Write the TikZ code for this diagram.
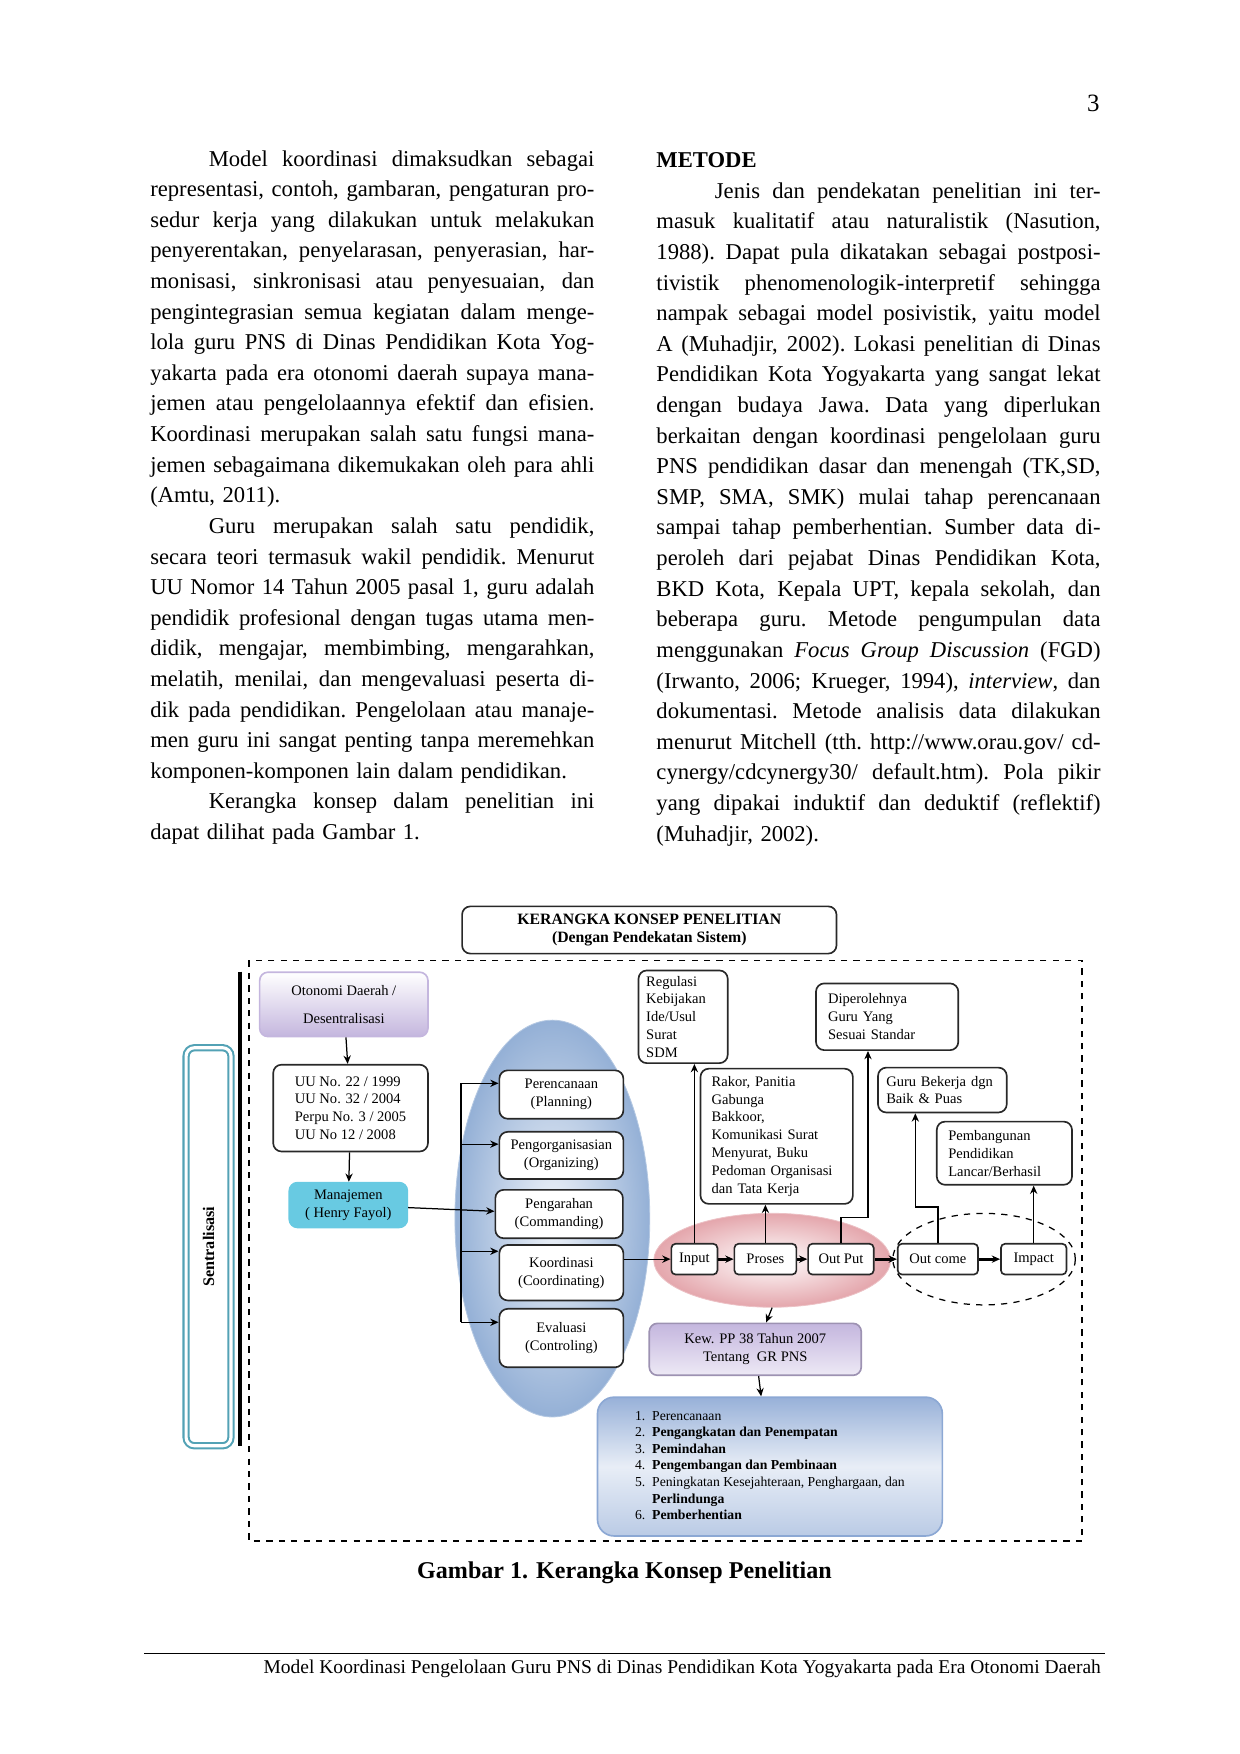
\documentclass[tikz,border=0pt]{standalone}
\usepackage{fontspec}
\setmainfont{Liberation Serif}
\usetikzlibrary{shapes.geometric,arrows.meta,positioning}
\definecolor{lavender}{RGB}{196,182,222}
\definecolor{skycyan}{RGB}{104,202,226}
\definecolor{ovalblue}{RGB}{148,176,214}
\definecolor{ovalpink}{RGB}{228,166,172}
\definecolor{listblue}{RGB}{140,168,212}
\definecolor{frame}{RGB}{40,40,40}
\newcommand\jl[1]{\leavevmode\hbox to 7.52cm{\spaceskip=.25em plus 2em minus .05em\xspaceskip=\spaceskip\relax #1}}
\newcommand\ind{\hspace*{0.99cm}}
\begin{document}
\begin{tikzpicture}[x=0.01909cm,y=-0.01909cm,>={Stealth[length=4pt,width=3.5pt]},
  every node/.style={inner sep=0pt},
  box/.style={draw=frame,rounded corners=4pt,fill=white,align=center,font=\fontsize{7}{8.6}\selectfont,thick},
  flow/.style={box,minimum height=0.52cm,rounded corners=2pt},
  link/.style={->,semithick},
  bold/.style={->,line width=1.4pt},
  col/.style={text width=7.52cm,align=left,anchor=north west,font=\fontsize{10.9}{14.75}\selectfont}]
\useasboundingbox (0,0) rectangle (1100,1556);

% page text
\node[font=\fontsize{12}{14}\selectfont] (pno) at (970,92) {3};
\node[col] (left) at (133,133) {\jl{\ind Model koordinasi dimaksudkan sebagai}\\
\jl{representasi, contoh, gambaran, pengaturan pro-}\\
\jl{sedur kerja yang dilakukan untuk melakukan}\\
\jl{penyerentakan, penyelarasan, penyerasian, har-}\\
\jl{monisasi, sinkronisasi atau penyesuaian, dan}\\
\jl{pengintegrasian semua kegiatan dalam menge-}\\
\jl{lola guru PNS di Dinas Pendidikan Kota Yog-}\\
\jl{yakarta pada era otonomi daerah supaya mana-}\\
\jl{jemen atau pengelolaannya efektif dan efisien.}\\
\jl{Koordinasi merupakan salah satu fungsi mana-}\\
\jl{jemen sebagaimana dikemukakan oleh para ahli}\\
(Amtu, 2011).\\
\jl{\ind Guru merupakan salah satu pendidik,}\\
\jl{secara teori termasuk wakil pendidik. Menurut}\\
\jl{UU Nomor 14 Tahun 2005 pasal 1, guru adalah}\\
\jl{pendidik profesional dengan tugas utama men-}\\
\jl{didik, mengajar, membimbing, mengarahkan,}\\
\jl{melatih, menilai, dan mengevaluasi peserta di-}\\
\jl{dik pada pendidikan. Pengelolaan atau manaje-}\\
\jl{men guru ini sangat penting tanpa meremehkan}\\
komponen-komponen lain dalam pendidikan.\\
\jl{\ind Kerangka konsep dalam penelitian ini}\\
dapat dilihat pada Gambar 1.};
\node[col] (right) at (582,135) {\textbf{METODE}\\
\jl{\ind Jenis dan pendekatan penelitian ini ter-}\\
\jl{masuk kualitatif atau naturalistik (Nasution,}\\
\jl{1988). Dapat pula dikatakan sebagai postposi-}\\
\jl{tivistik phenomenologik-interpretif sehingga}\\
\jl{nampak sebagai model posivistik, yaitu model}\\
\jl{A (Muhadjir, 2002). Lokasi penelitian di Dinas}\\
\jl{Pendidikan Kota Yogyakarta yang sangat lekat}\\
\jl{dengan budaya Jawa. Data yang diperlukan}\\
\jl{berkaitan dengan koordinasi pengelolaan guru}\\
\jl{PNS pendidikan dasar dan menengah (TK,SD,}\\
\jl{SMP, SMA, SMK) mulai tahap perencanaan}\\
\jl{sampai tahap pemberhentian. Sumber data di-}\\
\jl{peroleh dari pejabat Dinas Pendidikan Kota,}\\
\jl{BKD Kota, Kepala UPT, kepala sekolah, dan}\\
\jl{beberapa guru. Metode pengumpulan data}\\
\jl{menggunakan \textit{Focus Group Discussion} (FGD)}\\
\jl{(Irwanto, 2006; Krueger, 1994), \textit{interview}, dan}\\
\jl{dokumentasi. Metode analisis data dilakukan}\\
\jl{menurut Mitchell (tth. http://www.orau.gov/ cd-}\\
\jl{cynergy/cdcynergy30/ default.htm). Pola pikir}\\
\jl{yang dipakai induktif dan deduktif (reflektif)}\\
(Muhadjir, 2002).};

% frame of the figure
\node[box,font=\fontsize{7.6}{9}\selectfont\bfseries,minimum width=6.34cm,minimum height=0.80cm] (title) at (576,825) {KERANGKA KONSEP PENELITIAN\\(Dengan Pendekatan Sistem)};
\coordinate (fa) at (221,852);
\coordinate (fb) at (960,1367);
\draw[dashed,thick] (fa) rectangle (fb);
\coordinate (bar1) at (213,862);
\coordinate (bar2) at (213,1283);
\draw[line width=2pt] (bar1) -- (bar2);
\node[draw=skycyan!80!black,double=white,double distance=1.5pt,line width=1pt,rounded corners=4pt,minimum width=0.76cm,minimum height=6.74cm] (sentral) at (185,1106) {};
\node[rotate=90,font=\fontsize{7.8}{9}\selectfont\bfseries] at (sentral) {Sentralisasi};

% ovals
\node[ellipse,draw=ovalblue!70!white,inner color=white!85!ovalblue,outer color=ovalblue,minimum width=3.30cm,minimum height=6.72cm] (fungsi) at (490,1081) {};
\node[ellipse,draw=ovalpink!70!white,inner color=white,outer color=ovalpink,minimum width=4.01cm,minimum height=1.59cm] (sistem) at (685,1118) {};
\node[ellipse,draw,dashed,semithick,minimum width=3.09cm,minimum height=1.55cm] (hasil) at (873,1117) {};

% left chain
\node[box,draw=lavender,top color=white,bottom color=lavender,minimum width=2.85cm,minimum height=1.09cm] (otda) at (305,891) {Otonomi Daerah /\\[5pt]Desentralisasi};
\node[box,minimum width=2.62cm,minimum height=1.47cm,align=left] (uu) at (311,983) {UU No. 22 / 1999\\UU No. 32 / 2004\\Perpu No. 3 / 2005\\UU No 12 / 2008};
\node[box,draw=skycyan,fill=skycyan,minimum width=2.0cm,minimum height=0.76cm] (mnj) at (309,1069) {Manajemen\\( Henry Fayol)};

% management functions
\node[box,minimum width=2.10cm,minimum height=0.82cm] (pere) at (498,971) {Perencanaan\\(Planning)};
\node[box,minimum width=2.10cm,minimum height=0.80cm] (org) at (498,1025) {Pengorganisasian\\(Organizing)};
\node[box,minimum width=2.16cm,minimum height=0.82cm] (arah) at (496,1077) {Pengarahan\\(Commanding)};
\node[box,minimum width=2.10cm,minimum height=0.94cm] (koor) at (498,1129) {Koordinasi\\(Coordinating)};
\node[box,minimum width=2.10cm,minimum height=0.99cm] (eva) at (498,1187) {Evaluasi\\(Controling)};

% system flow
\node[flow,minimum width=0.78cm] (input) at (616,1117) {Input};
\node[flow,minimum width=1.05cm] (proses) at (679,1117) {Proses};
\node[flow,minimum width=1.11cm] (output) at (746,1117) {Out Put};
\node[flow,minimum width=1.36cm] (outcome) at (832,1117) {Out come};
\node[flow,minimum width=1.11cm] (impact) at (917,1117) {Impact};

% upper boxes
\node[box,align=left,text width=1.25cm,minimum width=1.51cm,minimum height=1.57cm] (regul) at (606,902) {Regulasi\\Kebijakan\\Ide/Usul\\Surat\\SDM};
\node[box,align=left,text width=2.2cm,minimum width=2.58cm,minimum height=2.29cm] (rakor) at (689,1008) {Rakor, Panitia\\Gabunga\\Bakkoor,\\Komunikasi Surat\\Menyurat, Buku\\Pedoman Organisasi\\dan Tata Kerja};
\node[box,align=left,text width=2.0cm,minimum width=2.41cm,minimum height=1.13cm] (dapat) at (787,902) {Diperolehnya\\Guru Yang\\Sesuai Standar};
\node[box,align=left,text width=1.9cm,minimum width=2.18cm,minimum height=0.76cm] (kerja) at (836,967) {Guru Bekerja dgn\\Baik \& Puas};
\node[box,align=left,text width=1.9cm,minimum width=2.29cm,minimum height=1.07cm] (bangun) at (891,1023) {Pembangunan\\Pendidikan\\Lancar/Berhasil};

% lower boxes
\node[box,draw=lavender!80!black,top color=lavender,bottom color=white!70!lavender,minimum width=3.59cm,minimum height=0.88cm] (kew) at (670,1197) {Kew. PP 38 Tahun 2007\\Tentang\ \ GR PNS};
\node[box,draw=listblue,rounded corners=8pt,top color=listblue!90,bottom color=listblue!60,middle color=white!80!listblue,minimum width=5.84cm,minimum height=2.35cm,align=left,font=\fontsize{6.6}{8}\selectfont] (tahap) at (683,1301) {\begin{tabular}{@{}r@{\ \ }l@{}}
1. & Perencanaan\\ 2. & \textbf{Pengangkatan dan Penempatan}\\ 3. & \textbf{Pemindahan}\\ 4. & \textbf{Pengembangan dan Pembinaan}\\ 5. & Peningkatan Kesejahteraan, Penghargaan, dan\\ & \textbf{Perlindunga}\\ 6. & \textbf{Pemberhentian}\end{tabular}};

% connectors
\draw[link] (otda) -- (uu);
\draw[link] (uu) -- (mnj);
\draw[link] (mnj) -- (arah);
\coordinate (fl1) at (409,961);
\coordinate (fl2) at (409,1015);
\coordinate (fl3) at (409,1110);
\coordinate (fl4) at (409,1173);
\draw[semithick] (fl1) -- (fl4);
\foreach \b/\i in {pere/1,org/2,koor/3,eva/4}
  \draw[link] (fl\i) -- (\b.west |- fl\i);
\draw[link] (koor.east |- input) -- (input);
\draw[bold] (input) -- (proses);
\draw[bold] (proses) -- (output);
\draw[bold] (output) -- (outcome);
\draw[bold] (outcome) -- (impact);
\draw[link,thick] (input.north) -- (input.north |- regul.south);
\draw[link,thick] (proses.north) -- (proses.north |- rakor.south);
\coordinate (op1) at (770,1080);
\draw[link,thick] (output.north) |- (op1) -- (op1 |- dapat.south);
\coordinate (oc1) at (812,1071);
\draw[link,thick] (outcome.north) |- (oc1) -- (oc1 |- kerja.south);
\draw[link] (impact.north) -- (impact.north |- bangun.south);
\draw[link] (sistem.south) -- (kew);
\draw[link] (kew) -- (tahap);

% caption and footer
\node[font=\fontsize{11.6}{14}\selectfont\bfseries] (cap) at (554,1395) {Gambar 1. Kerangka Konsep Penelitian};
\coordinate (fo1) at (128,1467);
\coordinate (fo2) at (980,1467);
\draw[thin] (fo1) -- (fo2);
\node[anchor=east,font=\fontsize{9.4}{11}\selectfont] (foot) at (977,1480) {Model Koordinasi Pengelolaan Guru PNS di Dinas Pendidikan Kota Yogyakarta pada Era Otonomi Daerah};
\end{tikzpicture}
\end{document}
